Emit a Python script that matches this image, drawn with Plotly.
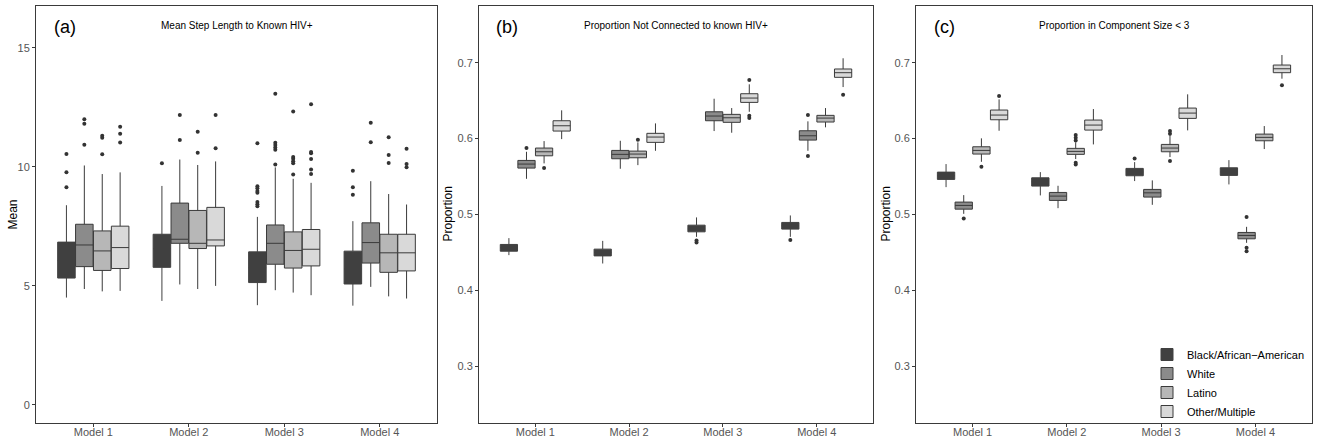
import plotly.graph_objects as go

models = ["Model 1", "Model 2", "Model 3", "Model 4"]
races = ["Black/African\u2212American", "White", "Latino", "Other/Multiple"]
fills = ["#404040", "#8b8b8b", "#b7b7b7", "#d9d9d9"]
outlines = ["#404040", "#3a3a3a", "#3a3a3a", "#3a3a3a"]

# ---------------- Panel (a): Mean Step Length to Known HIV+ ----------------
a_q1 = [[5.32, 5.77, 5.13, 5.07],
        [5.80, 6.78, 5.90, 5.95],
        [5.64, 6.56, 5.74, 5.56],
        [5.72, 6.67, 5.83, 5.62]]
a_med = [[6.05, 6.55, 5.75, 5.70],
         [6.71, 6.95, 6.78, 6.81],
         [6.46, 6.78, 6.48, 6.38],
         [6.60, 6.92, 6.53, 6.38]]
a_q3 = [[6.83, 7.16, 6.42, 6.45],
        [7.58, 8.47, 7.55, 7.64],
        [7.30, 8.16, 7.26, 7.16],
        [7.50, 8.29, 7.36, 7.16]]
a_lo = [[4.50, 4.36, 4.18, 4.16],
        [4.86, 5.05, 4.81, 4.95],
        [4.76, 4.86, 4.71, 4.55],
        [4.78, 4.99, 4.60, 4.46]]
a_hi = [[8.38, 9.19, 7.89, 7.71],
        [10.05, 10.30, 9.97, 9.39],
        [9.69, 10.07, 9.49, 8.85],
        [9.76, 10.22, 9.32, 8.41]]
a_out = [[[10.53, 9.76, 9.13], [10.14], [10.98, 9.18, 9.09, 8.98, 8.90, 8.51, 8.42, 8.34], [9.83, 9.13, 8.82]],
         [[11.99, 11.80, 10.92], [12.17, 11.12], [13.06, 11.00, 10.91, 10.81, 10.71, 10.09], [11.84, 11.03]],
         [[11.30, 11.21, 10.52], [11.47, 10.58], [12.32, 10.41, 10.33, 10.23, 10.14, 9.67], [11.24, 10.49, 10.15]],
         [[11.68, 11.38, 11.02], [12.17, 10.77], [12.62, 10.62, 10.56, 10.32, 9.88, 9.69], [10.75, 10.11, 9.97]]]

# ---------------- Panel (b): Proportion Not Connected to known HIV+ ----------------
b_q1 = [[0.4516, 0.4454, 0.4771, 0.4807],
        [0.5611, 0.5734, 0.6235, 0.5980],
        [0.5773, 0.5747, 0.6214, 0.6218],
        [0.6099, 0.5950, 0.6477, 0.6807]]
b_med = [[0.4560, 0.4500, 0.4810, 0.4850],
         [0.5664, 0.5792, 0.6297, 0.6037],
         [0.5826, 0.5796, 0.6274, 0.6270],
         [0.6169, 0.6020, 0.6534, 0.6868]]
b_q3 = [[0.4605, 0.4543, 0.4859, 0.4895],
        [0.5712, 0.5844, 0.6353, 0.6103],
        [0.5875, 0.5835, 0.6319, 0.6306],
        [0.6235, 0.6069, 0.6591, 0.6917]]
b_lo = [[0.4464, 0.4354, 0.4705, 0.4705],
        [0.5470, 0.5602, 0.6099, 0.5839],
        [0.5673, 0.5650, 0.6077, 0.6148],
        [0.5993, 0.5839, 0.6353, 0.6679]]
b_hi = [[0.4688, 0.4652, 0.4961, 0.4987],
        [0.5826, 0.5971, 0.6525, 0.6227],
        [0.5967, 0.5950, 0.6402, 0.6402],
        [0.6372, 0.6200, 0.6715, 0.7058]]
b_out = [[[], [], [0.4657, 0.4631], [0.4662]],
         [[0.5875], [], [], [0.6310, 0.5769]],
         [[0.5611], [0.5984], [], []],
         [[], [], [0.6771, 0.6301, 0.6270], [0.6578]]]

# ---------------- Panel (c): Proportion in Component Size < 3 ----------------
c_q1 = [[0.5462, 0.5374, 0.5510, 0.5515],
        [0.5070, 0.5185, 0.5229, 0.4679],
        [0.5796, 0.5792, 0.5826, 0.5971],
        [0.6248, 0.6112, 0.6266, 0.6868]]
c_med = [[0.5510, 0.5430, 0.5560, 0.5560],
         [0.5119, 0.5242, 0.5285, 0.4723],
         [0.5844, 0.5831, 0.5875, 0.6016],
         [0.6310, 0.6178, 0.6336, 0.6920]]
c_q3 = [[0.5558, 0.5483, 0.5607, 0.5615],
        [0.5163, 0.5290, 0.5330, 0.4763],
        [0.5892, 0.5871, 0.5923, 0.6059],
        [0.6376, 0.6244, 0.6402, 0.6969]]
c_lo = [[0.5360, 0.5251, 0.5440, 0.5396],
        [0.5008, 0.5083, 0.5127, 0.4626],
        [0.5694, 0.5730, 0.5756, 0.5862],
        [0.6103, 0.5923, 0.6108, 0.6789]]
c_hi = [[0.5664, 0.5558, 0.5690, 0.5716],
        [0.5255, 0.5378, 0.5449, 0.4837],
        [0.6003, 0.5950, 0.6046, 0.6165],
        [0.6517, 0.6389, 0.6583, 0.7101]]
c_out = [[[], [], [0.5739], []],
         [[0.4948], [], [], [0.4965, 0.4560, 0.4516]],
         [[0.5628], [0.6046, 0.6010, 0.5976, 0.5681, 0.5660], [0.6099, 0.6063, 0.5703], []],
         [[0.6560], [], [], [0.6702]]]

panels = [
    dict(q1=a_q1, med=a_med, q3=a_q3, lo=a_lo, hi=a_hi, out=a_out,
         title="Mean Step Length to Known HIV+", label="(a)", ytitle="Mean"),
    dict(q1=b_q1, med=b_med, q3=b_q3, lo=b_lo, hi=b_hi, out=b_out,
         title="Proportion Not Connected to known HIV+", label="(b)", ytitle="Proportion"),
    dict(q1=c_q1, med=c_med, q3=c_q3, lo=c_lo, hi=c_hi, out=c_out,
         title="Proportion in Component Size < 3", label="(c)", ytitle="Proportion"),
]

W, H = 1319, 443
dodge = 0.75
bw = dodge / len(races)

fig = go.Figure()
for p, pan in enumerate(panels):
    xa = "x" if p == 0 else f"x{p+1}"
    ya = "y" if p == 0 else f"y{p+1}"
    for r, race in enumerate(races):
        pos = [m + 1 + (r - (len(races) - 1) / 2) * bw for m in range(len(models))]
        fig.add_trace(go.Box(
            x=pos, q1=pan["q1"][r], median=pan["med"][r], q3=pan["q3"][r],
            lowerfence=pan["lo"][r], upperfence=pan["hi"][r],
            width=bw * 0.98, boxpoints=False, whiskerwidth=0,
            fillcolor=fills[r], line=dict(color=outlines[r], width=1),
            name=race, legendgroup=race, showlegend=(p == 2),
            xaxis=xa, yaxis=ya, hoverinfo="skip"))
        ox, oy = [], []
        for m in range(len(models)):
            for v in pan["out"][r][m]:
                ox.append(pos[m])
                oy.append(v)
        fig.add_trace(go.Scatter(
            x=ox, y=oy, mode="markers",
            marker=dict(color="#333333", size=4),
            showlegend=False, xaxis=xa, yaxis=ya, hoverinfo="skip"))

# panel pixel geometry
xdoms = [(36, 437), (479, 873), (916, 1312)]
ytitle_x = [12, 447, 885]
ytop, ybot = 6, 423
yranges = [[-0.77, 16.75], [0.2252, 0.7747], [0.2252, 0.7747]]
ytickv = [[0, 5, 10, 15], [0.3, 0.4, 0.5, 0.6, 0.7], [0.3, 0.4, 0.5, 0.6, 0.7]]
ytickt = [["0", "5", "10", "15"], ["0.3", "0.4", "0.5", "0.6", "0.7"], ["0.3", "0.4", "0.5", "0.6", "0.7"]]

axis_common = dict(showgrid=False, zeroline=False, showline=True, mirror=True,
                   linecolor="#3a3a3a", linewidth=1, ticks="outside", ticklen=3,
                   tickcolor="#3a3a3a", tickfont=dict(size=11, color="#555555"))

layout = dict(template="none", width=W, height=H, margin=dict(l=0, r=0, t=0, b=0),
              paper_bgcolor="white", plot_bgcolor="white",
              font=dict(family="Liberation Sans, Arial, sans-serif", color="#000000"),
              boxmode="overlay",
              legend=dict(x=1147 / W, y=(H - 426) / H, xanchor="left", yanchor="bottom",
                          font=dict(size=11, color="#000000"), bgcolor="rgba(0,0,0,0)",
                          tracegroupgap=0, itemwidth=30))
annotations = []
for p, pan in enumerate(panels):
    xk = "xaxis" if p == 0 else f"xaxis{p+1}"
    yk = "yaxis" if p == 0 else f"yaxis{p+1}"
    xa = "x" if p == 0 else f"x{p+1}"
    ya = "y" if p == 0 else f"y{p+1}"
    layout[xk] = dict(axis_common, domain=[xdoms[p][0] / W, xdoms[p][1] / W],
                      range=[0.4, 4.6], tickvals=[1, 2, 3, 4], ticktext=models,
                      anchor=ya, ticklabelstandoff=-4)
    layout[yk] = dict(axis_common, domain=[(H - ybot) / H, (H - ytop) / H],
                      range=yranges[p], tickvals=ytickv[p], ticktext=ytickt[p],
                      anchor=xa)
    annotations.append(dict(text=pan["ytitle"], xref="paper", yref="paper",
                            x=ytitle_x[p] / W, y=1 - (ytop + ybot) / 2 / H, textangle=-90,
                            showarrow=False, font=dict(size=12, color="#000000"),
                            xanchor="center", yanchor="middle"))
    annotations.append(dict(text=pan["title"], xref=f"{xa} domain", yref=f"{ya} domain",
                            x=0.5, y=(ybot - 25) / (ybot - ytop), showarrow=False,
                            font=dict(size=10, color="#000000"), xanchor="center", yanchor="middle"))
    annotations.append(dict(text=pan["label"], xref=f"{xa} domain", yref=f"{ya} domain",
                            x=0.072, y=(ybot - 27) / (ybot - ytop), showarrow=False,
                            font=dict(size=18, color="#000000"), xanchor="center", yanchor="middle"))
layout["annotations"] = annotations
fig.update_layout(**layout)

fig.write_html("out.html", config={"displayModeBar": False},
               post_script="document.body.style.margin='0';document.body.style.overflow='hidden';")
